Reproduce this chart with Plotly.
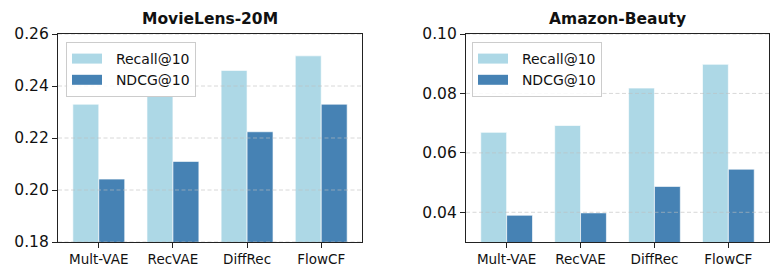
import plotly.graph_objects as go

methods = ["Mult-VAE", "RecVAE", "DiffRec", "FlowCF"]
ml_recall = [0.2330, 0.2360, 0.2460, 0.2516]
ml_ndcg = [0.2042, 0.2110, 0.2224, 0.2330]
ab_recall = [0.0669, 0.0692, 0.0818, 0.0898]
ab_ndcg = [0.0390, 0.0398, 0.0487, 0.0545]
ml_ticks = [0.18, 0.20, 0.22, 0.24, 0.26]
ab_ticks = [0.04, 0.06, 0.08, 0.10]
titles = ["MovieLens-20M", "Amazon-Beauty"]
series_names = ["Recall@10", "NDCG@10"]

C_LIGHT = "#ADD8E6"
C_DARK = "#4682B4"
FONT = "DejaVu Sans"

# page is 781x280; the html body has an 8px margin
OFF = 8
W, H = 781 - 2 * OFF, 280 - 2 * OFF
fig = go.Figure()

def px_x(p):
    return (p - OFF) / W

def px_y(p):
    return 1 - (p - OFF) / H

def add_pair(recall, ndcg, xa, ya, legend):
    for name, vals, col in [(series_names[0], recall, C_LIGHT), (series_names[1], ndcg, C_DARK)]:
        fig.add_trace(go.Bar(
            x=methods, y=vals, name=name, xaxis=xa, yaxis=ya, showlegend=False,
            marker=dict(color=col, line=dict(color="rgba(255,255,255,0.8)", width=0.8)),
        ))
    for name, col in [(series_names[0], C_LIGHT), (series_names[1], C_DARK)]:
        fig.add_trace(go.Scatter(
            x=[None], y=[None], name="\u00a0\u00a0" + name, mode="lines", xaxis=xa, yaxis=ya,
            legend=legend, line=dict(color=col, width=10),
        ))

add_pair(ml_recall, ml_ndcg, "x", "y", "legend")
add_pair(ab_recall, ab_ndcg, "x2", "y2", "legend2")

ydom = [px_y(242), px_y(34)]
xd1 = [px_x(58), px_x(362)]
xd2 = [px_x(466), px_x(769)]

axis_common = dict(showline=True, linecolor="#222", linewidth=1.2, mirror=True,
                   ticks="outside", ticklen=5, tickcolor="#222", automargin=False)
xcommon = dict(axis_common, range=[-0.55, 3.55], showgrid=False, type="category",
               tickfont=dict(family=FONT, size=13.5, color="#111"))
ycommon = dict(axis_common, showgrid=False, zeroline=False,
               tickfont=dict(family=FONT, size=15.5, color="#111"))

legend_style = dict(bgcolor="rgba(255,255,255,0.85)", bordercolor="#cccccc", borderwidth=1,
                    font=dict(family=FONT, size=14, color="#111"),
                    xanchor="left", yanchor="top", xref="paper", yref="paper",
                    tracegroupgap=0)

fig.update_layout(
    width=W, height=H, margin=dict(l=0, r=0, t=0, b=0, pad=0, autoexpand=False),
    paper_bgcolor="white", plot_bgcolor="white",
    barmode="group", bargap=0.3, bargroupgap=0,
    font=dict(family=FONT, color="#111"),
    xaxis=dict(xcommon, domain=xd1, anchor="y"),
    yaxis=dict(ycommon, domain=ydom, anchor="x", range=[0.18, 0.26],
               tickvals=ml_ticks, ticktext=[f"{v:.2f}" for v in ml_ticks]),
    xaxis2=dict(xcommon, domain=xd2, anchor="y2"),
    yaxis2=dict(ycommon, domain=ydom, anchor="x2", range=[0.03, 0.10],
                tickvals=ab_ticks, ticktext=[f"{v:.2f}" for v in ab_ticks]),
    legend=dict(legend_style, x=px_x(66), y=px_y(42)),
    legend2=dict(legend_style, x=px_x(472), y=px_y(42)),
    showlegend=True,
)

# dashed grid drawn over the bars (as in the reference)
for ticks, xr, yr in [(ml_ticks, "x domain", "y"), (ab_ticks, "x2 domain", "y2")]:
    for v in ticks:
        fig.add_shape(type="line", xref=xr, yref=yr, x0=0, x1=1, y0=v, y1=v,
                      layer="above",
                      line=dict(color="rgba(190,190,190,0.6)", width=1, dash="4px,2.5px"))

for t, xd in zip(titles, [xd1, xd2]):
    fig.add_annotation(text=f"<b>{t}</b>", x=(xd[0] + xd[1]) / 2, y=px_y(19),
                       xref="paper", yref="paper", showarrow=False,
                       xanchor="center", yanchor="middle",
                       font=dict(family=FONT, size=15.5, color="#111"))

fig.write_html("out.html")
